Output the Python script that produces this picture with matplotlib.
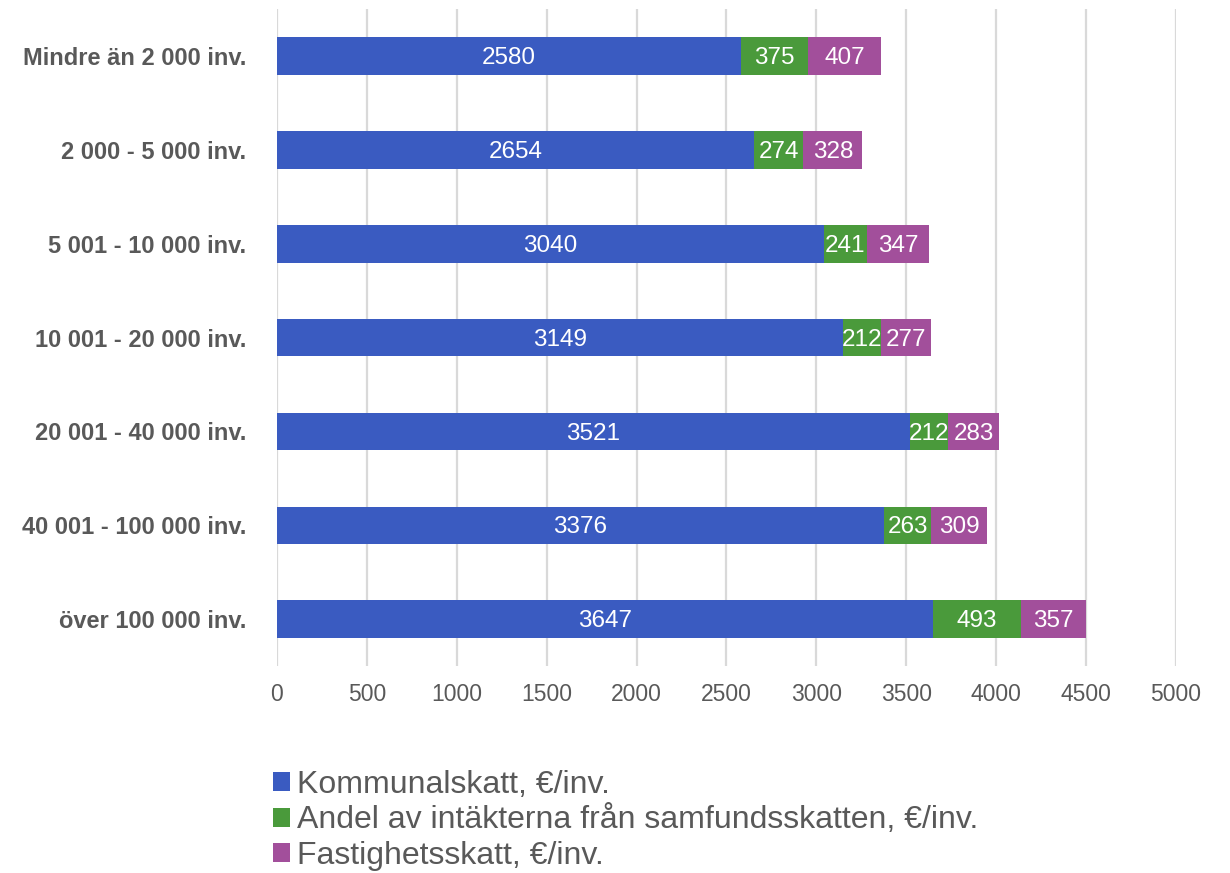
import matplotlib.pyplot as plt
from matplotlib.patches import Patch

plt.rcParams['font.family'] = ['Liberation Sans', 'DejaVu Sans']

# data
categories = ['Mindre än 2 000 inv.', '2 000 - 5 000 inv.', '5 001 - 10 000 inv.',
              '10 001 - 20 000 inv.', '20 001 - 40 000 inv.', '40 001 - 100 000 inv.',
              'över 100 000 inv.']
kommunalskatt = [2580, 2654, 3040, 3149, 3521, 3376, 3647]
samfundsskatt = [375, 274, 241, 212, 212, 263, 493]
fastighetsskatt = [407, 328, 347, 277, 283, 309, 357]
series_names = ['Kommunalskatt, €/inv.',
                'Andel av intäkterna från samfundsskatten, €/inv.',
                'Fastighetsskatt, €/inv.']
colors = ['#3A5BC1', '#4A9A3B', '#A24F9B']

fig = plt.figure(figsize=(12.3, 8.73), dpi=100)
ax = fig.add_axes([0.2252, 0.237, 0.7309, 0.7526])

y = list(range(len(categories)))
left = [0] * len(categories)
for vals, col in zip([kommunalskatt, samfundsskatt, fastighetsskatt], colors):
    bars = ax.barh(y, vals, left=left, height=0.4, color=col, zorder=3)
    texts = ax.bar_label(bars, labels=[str(v) for v in vals], label_type='center',
                         color='white', fontsize=17.5, zorder=4)
    # nudge labels down a little, like the original
    for t in texts:
        t.xyann = (0, -1.5)
    left = [a + b for a, b in zip(left, vals)]

ax.set_ylim(len(categories) - 0.5, -0.5)
ax.set_xlim(0, 5000)
ax.set_xticks(range(0, 5001, 500))
ax.set_yticks(y)
ax.set_yticklabels(categories, fontsize=17, fontweight='bold', color='#595959')
ax.tick_params(axis='x', labelsize=16.5, labelcolor='#595959', length=0, pad=12)
ax.tick_params(axis='y', length=0, pad=22)
ax.grid(axis='x', color='#D9D9D9', linewidth=1.6, zorder=0)
for s in ax.spines.values():
    s.set_visible(False)

handles = [Patch(facecolor=c) for c in colors]
fig.legend(handles, series_names, loc='upper left', bbox_to_anchor=(0.222, 0.118),
           frameon=False, fontsize=23, labelcolor='#595959',
           handlelength=0.53, handleheight=0.53, handletextpad=0.22,
           labelspacing=0.17, borderaxespad=0, borderpad=0)

fig.savefig('out.png', dpi=100)
